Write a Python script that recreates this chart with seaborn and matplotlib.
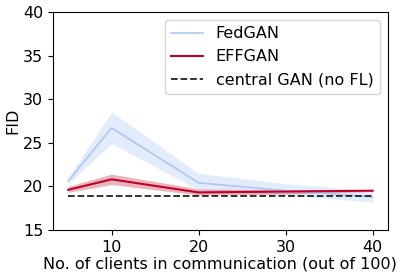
import matplotlib
matplotlib.use("Agg")
import matplotlib.pyplot as plt
import seaborn as sns
import pandas as pd

clients = [5, 10, 20, 30, 40]
fedgan_mean = [20.6, 26.7, 20.4, 19.5, 18.8]
fedgan_low = [20.3, 24.9, 19.6, 19.0, 18.2]
fedgan_high = [21.0, 28.5, 21.5, 20.3, 19.5]
effgan_mean = [19.6, 20.8, 19.3, 19.4, 19.5]
effgan_low = [19.3, 20.2, 19.0, 19.1, 19.4]
effgan_high = [20.0, 21.4, 19.7, 19.6, 19.6]
central_fid = [18.9, 18.9, 18.9, 18.9, 18.9]

plt.rcParams['font.size'] = 11.5
fig, ax = plt.subplots(figsize=(4.04, 2.78), dpi=100)

blue = "#a9c8f5"
red = "#c0002a"

df = pd.DataFrame({"x": clients, "fed": fedgan_mean, "eff": effgan_mean, "cen": central_fid})
sns.lineplot(data=df, x="x", y="fed", ax=ax, color=blue, lw=1.2, label="FedGAN")
ax.fill_between(clients, fedgan_low, fedgan_high, color="#c7dafc", alpha=0.5, lw=0)
sns.lineplot(data=df, x="x", y="eff", ax=ax, color=red, lw=1.5, label="EFFGAN")
ax.fill_between(clients, effgan_low, effgan_high, color="#c8485a", alpha=0.4, lw=0)
sns.lineplot(data=df, x="x", y="cen", ax=ax, color="#222222", lw=1.3, linestyle="--", label="central GAN (no FL)")

ax.set_ylim(15, 40)
ax.set_yticks([15, 20, 25, 30, 35, 40])
ax.set_xticks([10, 20, 30, 40])
ax.set_xlabel("No. of clients in communication (out of 100)", labelpad=1)
ax.set_ylabel("FID", labelpad=2)
ax.legend(loc="upper right")
fig.subplots_adjust(left=0.131, right=0.96, top=0.957, bottom=0.173)
fig.savefig("out.png", dpi=100)
